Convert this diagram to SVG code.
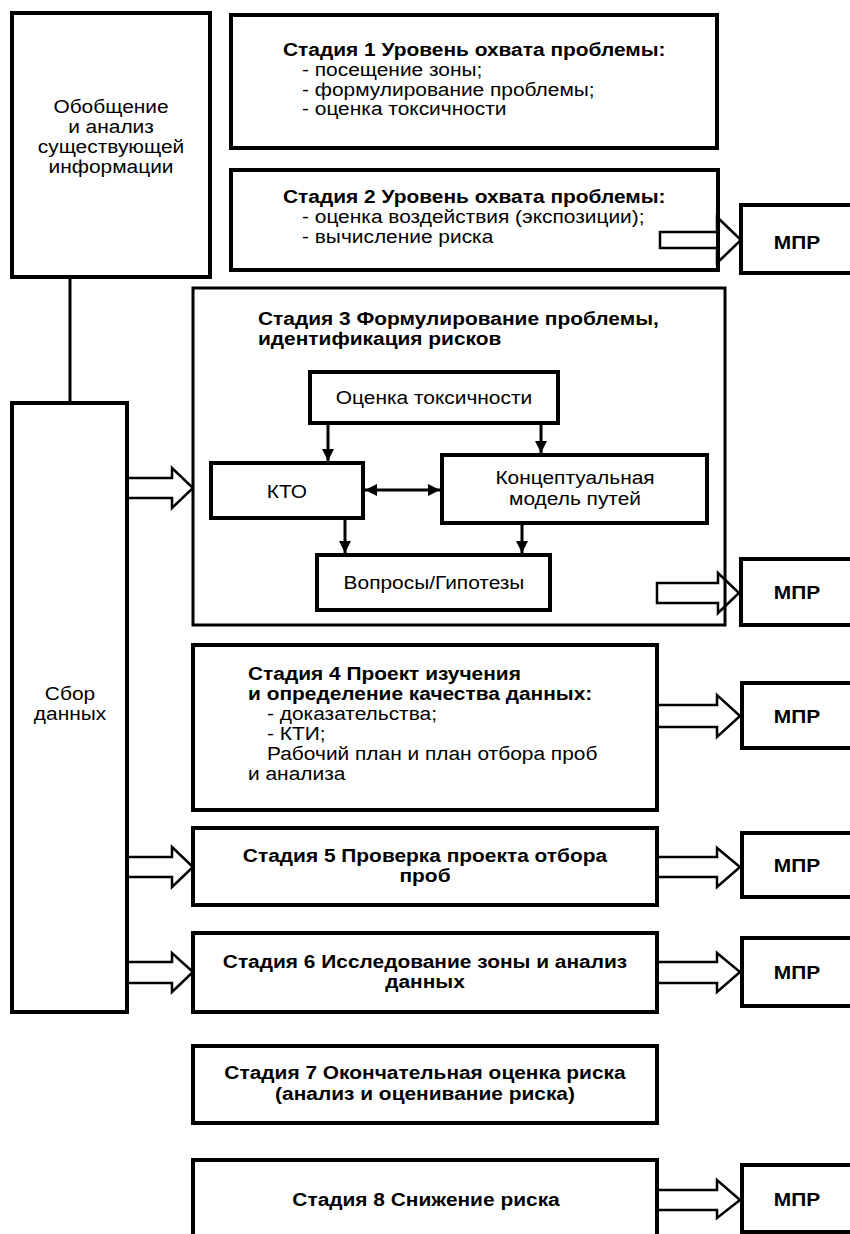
<svg xmlns="http://www.w3.org/2000/svg" width="850" height="1234" viewBox="0 0 850 1234">
<style>
.box{fill:#fff;stroke:#000;stroke-width:4}
.box3{fill:none;stroke:#000;stroke-width:3}
.ibox{fill:#fff;stroke:#000;stroke-width:4}
.t{font-family:"Liberation Sans",Arial,sans-serif;font-size:19px;fill:#000}
.b{font-weight:bold}
.c{text-anchor:middle}
.ha{fill:none;stroke:#000;stroke-width:2.5;stroke-linejoin:miter}
.ln{stroke:#000;stroke-width:3;fill:none}
.ar{stroke:#000;stroke-width:3;fill:none}
</style>
<defs>
<marker id="ah" viewBox="0 0 10 10" refX="10" refY="5" markerWidth="4" markerHeight="4" orient="auto-start-reverse" markerUnits="strokeWidth">
<path d="M0,0 L10,5 L0,10 z" fill="#000"/>
</marker>
</defs>

<g id="node-obobshchenie">
<rect class="box" x="12" y="13" width="198" height="264"/>
<text class="t c" transform="translate(111,113) scale(1.1,1)">Обобщение</text>
<text class="t c" transform="translate(111,133) scale(1.1,1)">и анализ</text>
<text class="t c" transform="translate(111,153) scale(1.1,1)">существующей</text>
<text class="t c" transform="translate(111,173) scale(1.1,1)">информации</text>
</g>

<g id="node-sbor">
<rect class="box" x="12" y="403" width="115" height="609"/>
<text class="t c" transform="translate(70,700) scale(1.1,1)">Сбор</text>
<text class="t c" transform="translate(70,720) scale(1.1,1)">данных</text>
</g>

<g id="node-stage1">
<rect class="box" x="231" y="15" width="486" height="133"/>
<text class="t b" transform="translate(283,56) scale(1.1,1)">Стадия 1 Уровень охвата проблемы:</text>
<text class="t" transform="translate(302,76) scale(1.1,1)">- посещение зоны;</text>
<text class="t" transform="translate(302,96) scale(1.1,1)">- формулирование проблемы;</text>
<text class="t" transform="translate(302,115) scale(1.1,1)">- оценка токсичности</text>
</g>

<g id="node-stage2">
<rect class="box" x="231" y="170" width="487" height="100"/>
<text class="t b" transform="translate(283,203) scale(1.1,1)">Стадия 2 Уровень охвата проблемы:</text>
<text class="t" transform="translate(302,223) scale(1.1,1)">- оценка воздействия (экспозиции);</text>
<text class="t" transform="translate(302,243) scale(1.1,1)">- вычисление риска</text>
</g>

<g id="node-stage3">
<rect class="box3" x="193" y="288" width="532" height="337"/>
<text class="t b" transform="translate(258,325) scale(1.1,1)">Стадия 3 Формулирование проблемы,</text>
<text class="t b" transform="translate(258,345) scale(1.1,1)">идентификация рисков</text>
</g>

<g id="node-toks">
<rect class="ibox" x="310" y="372" width="248" height="51"/>
<text class="t c" transform="translate(434,404) scale(1.1,1)">Оценка токсичности</text>
</g>

<g id="node-kto">
<rect class="ibox" x="211" y="463" width="152" height="55"/>
<text class="t c" transform="translate(287,498) scale(1.1,1)">КТО</text>
</g>

<g id="node-model">
<rect class="ibox" x="442" y="455" width="265" height="68"/>
<text class="t c" transform="translate(575,484) scale(1.1,1)">Концептуальная</text>
<text class="t c" transform="translate(575,505) scale(1.1,1)">модель путей</text>
</g>

<g id="node-voprosy">
<rect class="ibox" x="317" y="555" width="233" height="55"/>
<text class="t c" transform="translate(434,589) scale(1.1,1)">Вопросы/Гипотезы</text>
</g>

<g id="node-stage4">
<rect class="box" x="193" y="645" width="464" height="165"/>
<text class="t b" transform="translate(248,680) scale(1.1,1)">Стадия 4 Проект изучения</text>
<text class="t b" transform="translate(248,700) scale(1.1,1)">и определение качества данных:</text>
<text class="t" transform="translate(267,720) scale(1.1,1)">- доказательства;</text>
<text class="t" transform="translate(267,740) scale(1.1,1)">- КТИ;</text>
<text class="t" transform="translate(267,760) scale(1.1,1)">Рабочий план и план отбора проб</text>
<text class="t" transform="translate(248,780) scale(1.1,1)">и анализа</text>
</g>

<g id="node-stage5">
<rect class="box" x="193" y="828" width="464" height="77"/>
<text class="t b c" transform="translate(425,862) scale(1.1,1)">Стадия 5 Проверка проекта отбора</text>
<text class="t b c" transform="translate(425,882) scale(1.1,1)">проб</text>
</g>

<g id="node-stage6">
<rect class="box" x="193" y="933" width="464" height="79"/>
<text class="t b c" transform="translate(425,968) scale(1.1,1)">Стадия 6 Исследование зоны и анализ</text>
<text class="t b c" transform="translate(425,988) scale(1.1,1)">данных</text>
</g>

<g id="node-stage7">
<rect class="box" x="193" y="1046" width="464" height="77"/>
<text class="t b c" transform="translate(425,1079) scale(1.1,1)">Стадия 7 Окончательная оценка риска</text>
<text class="t b c" transform="translate(425,1100) scale(1.1,1)">(анализ и оценивание риска)</text>
</g>

<g id="node-stage8">
<rect class="box" x="193" y="1160" width="464" height="90"/>
<text class="t b c" transform="translate(426,1206) scale(1.1,1)">Стадия 8 Снижение риска</text>
</g>

<g id="node-mpr2">
<rect class="box" x="741" y="205" width="115" height="68"/>
<text class="t b c" transform="translate(797,249) scale(1.1,1)">МПР</text>
</g>
<g id="node-mpr3">
<rect class="box" x="741" y="559" width="115" height="66"/>
<text class="t b c" transform="translate(797,599) scale(1.1,1)">МПР</text>
</g>
<g id="node-mpr4">
<rect class="box" x="742" y="683" width="115" height="65"/>
<text class="t b c" transform="translate(797,723) scale(1.1,1)">МПР</text>
</g>
<g id="node-mpr5">
<rect class="box" x="742" y="833" width="115" height="64"/>
<text class="t b c" transform="translate(797,872) scale(1.1,1)">МПР</text>
</g>
<g id="node-mpr6">
<rect class="box" x="742" y="938" width="115" height="68"/>
<text class="t b c" transform="translate(797,979) scale(1.1,1)">МПР</text>
</g>
<g id="node-mpr8">
<rect class="box" x="742" y="1165" width="115" height="67"/>
<text class="t b c" transform="translate(797,1206) scale(1.1,1)">МПР</text>
</g>

<g id="connectors">
<line class="ln" x1="70" y1="277" x2="70" y2="403"/>
<path class="ha" d="M129,478 H172 V468 L193,488 L172,508 V498 H129"/>
<path class="ha" d="M129,857 H172 V847 L193,867 L172,887 V877 H129"/>
<path class="ha" d="M129,962 H172 V953 L193,972 L172,992 V983 H129"/>
<path class="ha" d="M660,232 H717 V217 L741,240 L717,263 V248 H660 Z"/>
<path class="ha" d="M657,583 H718 V573 L739,593 L718,613 V603 H657 Z"/>
<path class="ha" d="M659,705 H717 V695 L740,716 L717,737 V727 H659"/>
<path class="ha" d="M659,857 H717 V848 L740,867 L717,887 V877 H659"/>
<path class="ha" d="M659,962 H717 V953 L740,972 L717,992 V983 H659"/>
<path class="ha" d="M659,1190 H717 V1180 L740,1200 L717,1218 V1210 H659"/>
<line class="ar" x1="328" y1="425" x2="328" y2="461" marker-end="url(#ah)"/>
<line class="ar" x1="541" y1="425" x2="541" y2="453" marker-end="url(#ah)"/>
<line class="ar" x1="345" y1="520" x2="345" y2="553" marker-end="url(#ah)"/>
<line class="ar" x1="522" y1="525" x2="522" y2="553" marker-end="url(#ah)"/>
<line class="ar" x1="365" y1="490" x2="440" y2="490" marker-start="url(#ah)" marker-end="url(#ah)"/>
</g>
</svg>
